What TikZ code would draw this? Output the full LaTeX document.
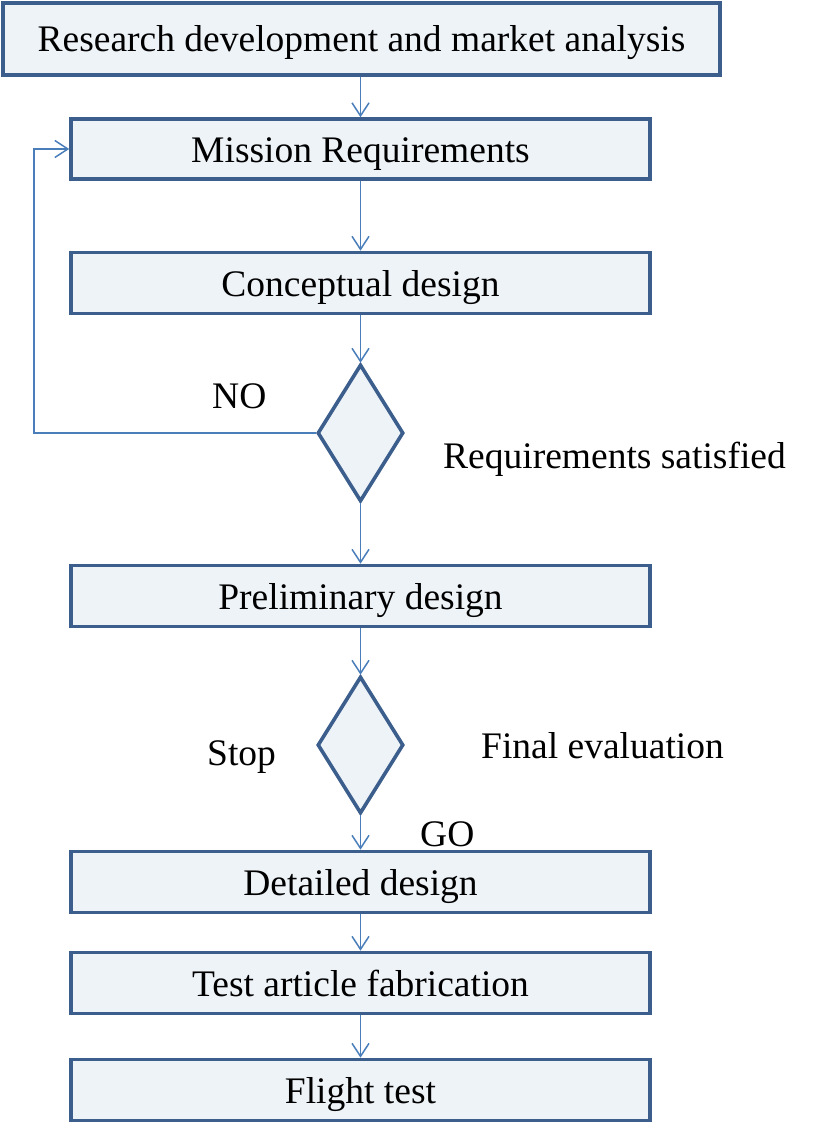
\documentclass[tikz,border=0pt]{standalone}
\usepackage{fontspec}
\setmainfont{Liberation Serif}
\usetikzlibrary{shapes.geometric,arrows.meta}
\definecolor{boxline}{HTML}{3B5E8C}
\definecolor{boxfill}{HTML}{EEF3F8}
\definecolor{arrowline}{HTML}{4A7EBB}
\begin{document}
\begin{tikzpicture}[x=1pt,y=-1pt,
  stepbox/.style={draw=boxline,fill=boxfill,line width=3.6pt,rectangle,
    minimum width=579pt,minimum height=61pt,inner sep=0pt,
    font=\fontsize{37.5}{40}\selectfont,text height=30pt,text depth=4pt},
  decide/.style={draw=boxline,fill=boxfill,line width=3.6pt,diamond,
    minimum width=86pt,minimum height=137pt,inner sep=0pt},
  lbl/.style={inner sep=0pt,anchor=base west,font=\fontsize{37.5}{40}\selectfont},
  flow/.style={draw=arrowline,line width=1.5pt,-{Straight Barb[length=13pt,width=17pt,line width=1.5pt]}}
]
\useasboundingbox (0,0) rectangle (821,1137);
\node[stepbox,minimum width=717pt,minimum height=72pt] (b1) at (361.5,39) {Research development and market analysis};
\node[stepbox,minimum height=60pt] (b2) at (360.5,149) {Mission Requirements};
\node[stepbox] (b3) at (360.5,283) {Conceptual design};
\node[decide] (d1) at (360.5,433) {};
\node[stepbox] (b4) at (360.5,596) {Preliminary design};
\node[decide] (d2) at (360.5,745) {};
\node[stepbox] (b5) at (360.5,882) {Detailed design};
\node[stepbox] (b6) at (360.5,983) {Test article fabrication};
\node[stepbox] (b7) at (360.5,1090) {Flight test};
\node[lbl] (no) at (212,408) {NO};
\node[lbl] (rs) at (443,468) {Requirements satisfied};
\node[lbl] (stop) at (207,765) {Stop};
\node[lbl] (fe) at (481,758) {Final evaluation};
\node[lbl] (go) at (420,846) {GO};
\coordinate (fb) at (34,433);
\draw[flow] (b2.north |- b1.south) -- (b2.north);
\draw[flow] (b2.south) -- (b3.north);
\draw[flow] (b3.south) -- (d1.north);
\draw[flow] (d1.south) -- (b4.north);
\draw[flow] (b4.south) -- (d2.north);
\draw[flow] (d2.south) -- (b5.north);
\draw[flow] (b5.south) -- (b6.north);
\draw[flow] (b6.south) -- (b7.north);
\draw[flow] (d1.west) -- (fb) |- (b2.west);
\end{tikzpicture}
\end{document}
